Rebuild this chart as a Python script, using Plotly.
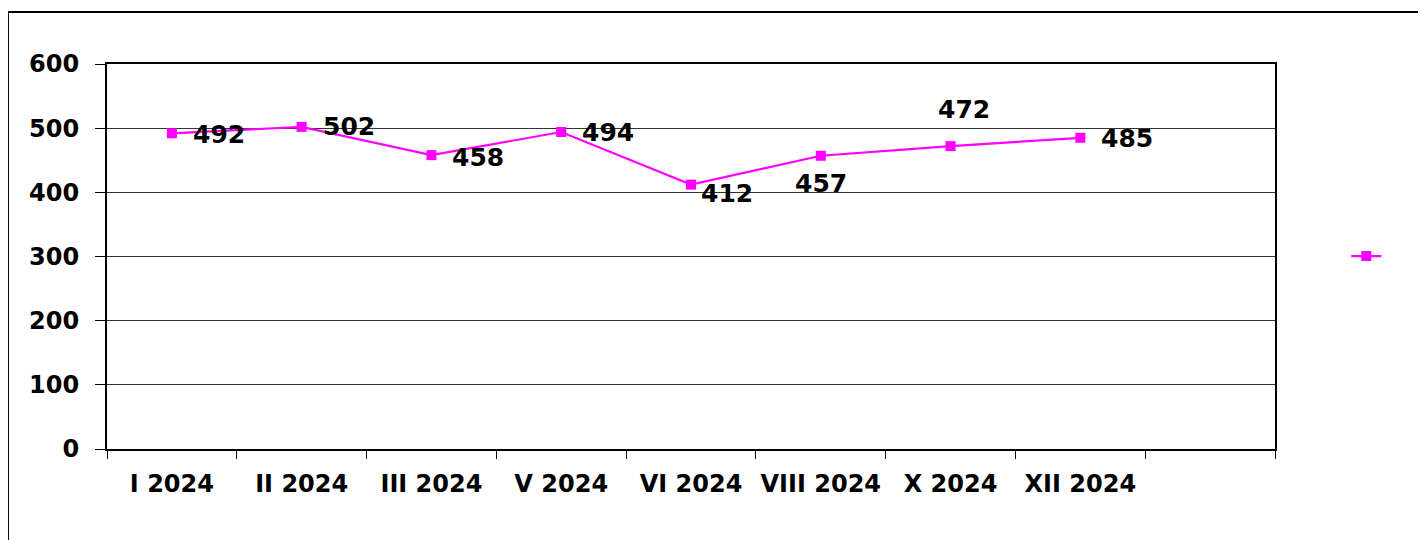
import plotly.graph_objects as go

categories = ["I 2024", "II 2024", "III 2024", "V 2024", "VI 2024", "VIII 2024", "X 2024", "XII 2024"]
values = [492, 502, 458, 494, 412, 457, 472, 485]
all_slots = categories + [" "]
y_ticks = [0, 100, 200, 300, 400, 500, 600]

# label offsets (px) relative to points
label_dx = [47, 47, 47, 47, 36, 0, 13, 47]
label_dy = [-1, 0, -2, 0, -9, -28, 37, -1]

MAGENTA = "#FF00FF"
FONT = "DejaVu Sans, sans-serif"

fig = go.Figure()
fig.add_trace(go.Scatter(
    x=categories, y=values, mode="lines+markers", name="",
    line=dict(color=MAGENTA, width=2.2),
    marker=dict(symbol="square", size=10, color=MAGENTA),
    showlegend=True,
))

for c, v, dx, dy in zip(categories, values, label_dx, label_dy):
    fig.add_annotation(x=c, y=v, text=f"<b>{v}</b>", showarrow=False,
                       xshift=dx, yshift=dy,
                       font=dict(family=FONT, size=25, color="black"))

fig.add_shape(type="rect", xref="paper", yref="paper",
              x0=-0.0848, x1=1.3, y0=-0.5, y1=1.135,
              line=dict(color="black", width=2), layer="below")

fig.update_layout(
    width=1418, height=532,
    margin=dict(l=99, r=151, t=56, b=91),
    paper_bgcolor="white", plot_bgcolor="white",
    font=dict(family=FONT, size=24, color="black"),
    showlegend=True,
    legend=dict(x=1.061, y=0.5, xanchor="left", yanchor="middle",
                bgcolor="rgba(0,0,0,0)", font=dict(size=14)),
    xaxis=dict(
        type="category", categoryorder="array", categoryarray=all_slots,
        range=[-0.5, 8.5], tickson="boundaries",
        ticks="outside", ticklen=8, tickcolor="black", tickwidth=1,
        showline=True, linecolor="black", linewidth=2, mirror=True,
        showgrid=False, tickfont=dict(family=FONT, size=24, weight="bold"),
        ticklabelstandoff=12,
    ),
    yaxis=dict(
        range=[0, 600], tickvals=y_ticks, ticktext=[f"<b>{t}</b>" for t in y_ticks],
        ticks="outside", ticklen=10, tickcolor="black", tickwidth=1,
        showline=True, linecolor="black", linewidth=2, mirror=True,
        showgrid=True, gridcolor="#333333", gridwidth=1,
        tickfont=dict(family=FONT, size=24), ticklabelstandoff=11,
        zeroline=False,
    ),
)

fig.write_html("out.html")
